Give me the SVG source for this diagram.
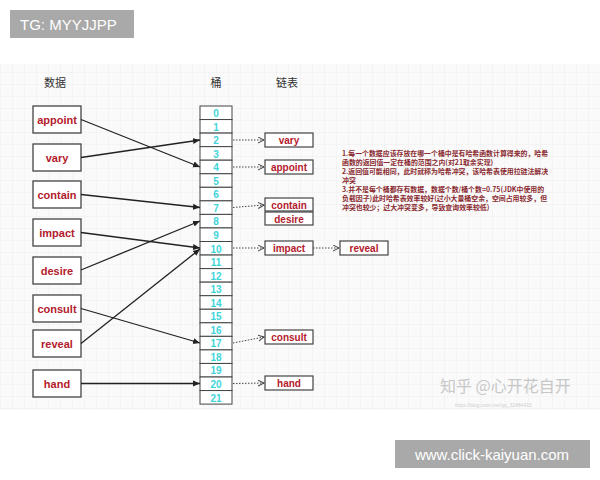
<svg xmlns="http://www.w3.org/2000/svg" width="600" height="480" viewBox="0 0 600 480">
<style>
.n rect{fill:#fff;stroke:#444;stroke-width:1.3}
.n text{font:bold 11px "Liberation Sans",sans-serif;fill:#b3202c;text-anchor:middle}
.l rect{fill:#fff;stroke:#444;stroke-width:1.2}
.l text{font:bold 10px "Liberation Sans",sans-serif;fill:#b3202c;text-anchor:middle}
.b rect{fill:#fff;stroke:#444;stroke-width:1}
.b text{font:bold 10px "Liberation Sans",sans-serif;fill:#3fd4d8;text-anchor:middle}
.h{font:11px "Noto Sans CJK SC",sans-serif;fill:#333;text-anchor:middle}
.e{font:bold 6.9px "Noto Sans CJK SC",sans-serif;fill:#8a2a30}
.s line{stroke:#222;stroke-width:1.3;marker-end:url(#a)}
.d line{stroke:#444;stroke-width:1;stroke-dasharray:1.5 1.5;marker-end:url(#a2)}
</style>
<defs>
<pattern id="g" width="12" height="12" patternUnits="userSpaceOnUse"><path d="M12 0H0V12" fill="none" stroke="#e6e6e6" stroke-width="0.7"/></pattern>
<marker id="a" markerWidth="8" markerHeight="8" refX="7" refY="4" orient="auto" markerUnits="userSpaceOnUse"><path d="M0,1 L7,4 L0,7z" fill="#222"/></marker>
<marker id="a2" markerWidth="8" markerHeight="8" refX="6" refY="3.5" orient="auto" markerUnits="userSpaceOnUse"><path d="M0,0.5 L6,3.5 L0,6.5" fill="none" stroke="#444"/></marker>
</defs>
<rect width="600" height="480" fill="#fff"/>
<rect x="0" y="64" width="600" height="346" fill="#fafafa"/>
<rect x="0" y="64" width="600" height="346" fill="url(#g)"/>
<rect x="10" y="10" width="124" height="28" fill="#a9a9a9"/>
<text x="20" y="30" font-family="Liberation Sans,sans-serif" font-size="15" fill="#fff">TG: MYYJJPP</text>
<text class="h" x="55" y="87">数据</text>
<text class="h" x="216" y="87">桶</text>
<text class="h" x="287" y="87">链表</text>
<g id="buckets" class="b">
<rect x="200" y="106" width="32" height="13.55"/><text x="216" y="117">0</text>
<rect x="200" y="119.55" width="32" height="13.55"/><text x="216" y="130.5">1</text>
<rect x="200" y="133.1" width="32" height="13.55"/><text x="216" y="144">2</text>
<rect x="200" y="146.65" width="32" height="13.55"/><text x="216" y="157.6">3</text>
<rect x="200" y="160.2" width="32" height="13.55"/><text x="216" y="171.2">4</text>
<rect x="200" y="173.75" width="32" height="13.55"/><text x="216" y="184.7">5</text>
<rect x="200" y="187.3" width="32" height="13.55"/><text x="216" y="198.3">6</text>
<rect x="200" y="200.85" width="32" height="13.55"/><text x="216" y="211.8">7</text>
<rect x="200" y="214.4" width="32" height="13.55"/><text x="216" y="225.4">8</text>
<rect x="200" y="227.95" width="32" height="13.55"/><text x="216" y="238.9">9</text>
<rect x="200" y="241.5" width="32" height="13.55"/><text x="216" y="252.5">10</text>
<rect x="200" y="255.05" width="32" height="13.55"/><text x="216" y="266">11</text>
<rect x="200" y="268.6" width="32" height="13.55"/><text x="216" y="279.6">12</text>
<rect x="200" y="282.15" width="32" height="13.55"/><text x="216" y="293.1">13</text>
<rect x="200" y="295.7" width="32" height="13.55"/><text x="216" y="306.7">14</text>
<rect x="200" y="309.25" width="32" height="13.55"/><text x="216" y="320.2">15</text>
<rect x="200" y="322.8" width="32" height="13.55"/><text x="216" y="333.8">16</text>
<rect x="200" y="336.35" width="32" height="13.55"/><text x="216" y="347.3">17</text>
<rect x="200" y="349.9" width="32" height="13.55"/><text x="216" y="360.9">18</text>
<rect x="200" y="363.45" width="32" height="13.55"/><text x="216" y="374.4">19</text>
<rect x="200" y="377" width="32" height="13.55"/><text x="216" y="388">20</text>
<rect x="200" y="390.55" width="32" height="13.55"/><text x="216" y="401.5">21</text>
</g>
<g id="data-appoint" class="n"><rect x="33" y="106" width="48" height="27"/><text x="57" y="123.5">appoint</text></g>
<g id="data-vary" class="n"><rect x="33" y="144" width="48" height="27"/><text x="57" y="161.5">vary</text></g>
<g id="data-contain" class="n"><rect x="33" y="181" width="48" height="27"/><text x="57" y="198.5">contain</text></g>
<g id="data-impact" class="n"><rect x="33" y="219" width="48" height="27"/><text x="57" y="236.5">impact</text></g>
<g id="data-desire" class="n"><rect x="33" y="257" width="48" height="27"/><text x="57" y="274.5">desire</text></g>
<g id="data-consult" class="n"><rect x="33" y="295" width="48" height="27"/><text x="57" y="312.5">consult</text></g>
<g id="data-reveal" class="n"><rect x="33" y="330" width="48" height="27"/><text x="57" y="347.5">reveal</text></g>
<g id="data-hand" class="n"><rect x="33" y="370" width="48" height="27"/><text x="57" y="387.5">hand</text></g>
<g id="list-vary" class="l"><rect x="265" y="133" width="48" height="14"/><text x="289" y="144">vary</text></g>
<g id="list-appoint" class="l"><rect x="265" y="160" width="48" height="14"/><text x="289" y="171">appoint</text></g>
<g id="list-contain" class="l"><rect x="265" y="198" width="48" height="13"/><text x="289" y="208.5">contain</text></g>
<g id="list-desire" class="l"><rect x="265" y="212" width="48" height="13"/><text x="289" y="222.5">desire</text></g>
<g id="list-impact" class="l"><rect x="265" y="241" width="48" height="14"/><text x="289" y="252">impact</text></g>
<g id="list-reveal" class="l"><rect x="340" y="241" width="48" height="14"/><text x="364" y="252">reveal</text></g>
<g id="list-consult" class="l"><rect x="265" y="330" width="48" height="14"/><text x="289" y="341">consult</text></g>
<g id="list-hand" class="l"><rect x="265" y="376" width="48" height="14"/><text x="289" y="387">hand</text></g>
<g id="connectors">
<g class="s">
<line x1="81" y1="119.5" x2="200" y2="167"/>
<line x1="81" y1="157.5" x2="200" y2="140"/>
<line x1="81" y1="194.5" x2="200" y2="207.5"/>
<line x1="81" y1="232.5" x2="200" y2="248"/>
<line x1="81" y1="270" x2="200" y2="221"/>
<line x1="81" y1="308.5" x2="200" y2="343"/>
<line x1="81" y1="343.5" x2="200" y2="249"/>
<line x1="81" y1="383.5" x2="200" y2="383.5"/>
</g>
<g class="d">
<line x1="233" y1="140" x2="264" y2="140"/>
<line x1="233" y1="167" x2="264" y2="167"/>
<line x1="233" y1="207.5" x2="264" y2="205"/>
<line x1="233" y1="248" x2="264" y2="248"/>
<line x1="313" y1="248" x2="339" y2="248"/>
<line x1="233" y1="343" x2="264" y2="337"/>
<line x1="233" y1="383.5" x2="264" y2="383"/>
</g>
</g>
<g class="e">
<text x="342" y="156">1.每一个数据应该存放在哪一个桶中是有哈希函数计算得来的，哈希</text>
<text x="342" y="165">函数的返回值一定在桶的范围之内(对21取余实现)</text>
<text x="342" y="174">2.返回值可能相同，此时就称为哈希冲突，该哈希表使用拉链法解决</text>
<text x="342" y="183">冲突</text>
<text x="342" y="192">3.并不是每个桶都存有数据，数据个数/桶个数=0.75(JDK中使用的</text>
<text x="342" y="201">负载因子)此时哈希表效率较好(过小大量桶空余，空间占用较多，但</text>
<text x="342" y="210">冲突也较少；过大冲突变多，导致查询效率较低)</text>
</g>
<text x="440" y="392" font-family="Noto Sans CJK SC,sans-serif" font-size="16" fill="#c8c8c8">知乎 @心开花自开</text>
<text x="455" y="407" font-family="Liberation Sans,sans-serif" font-size="5" fill="#d0d0d0">https://blog.csdn.net/qq_32484415</text>
<rect x="395" y="440" width="195" height="28" fill="#a9a9a9"/>
<text x="492" y="460" font-family="Liberation Sans,sans-serif" font-size="15" fill="#fff" text-anchor="middle">www.click-kaiyuan.com</text>
</svg>
